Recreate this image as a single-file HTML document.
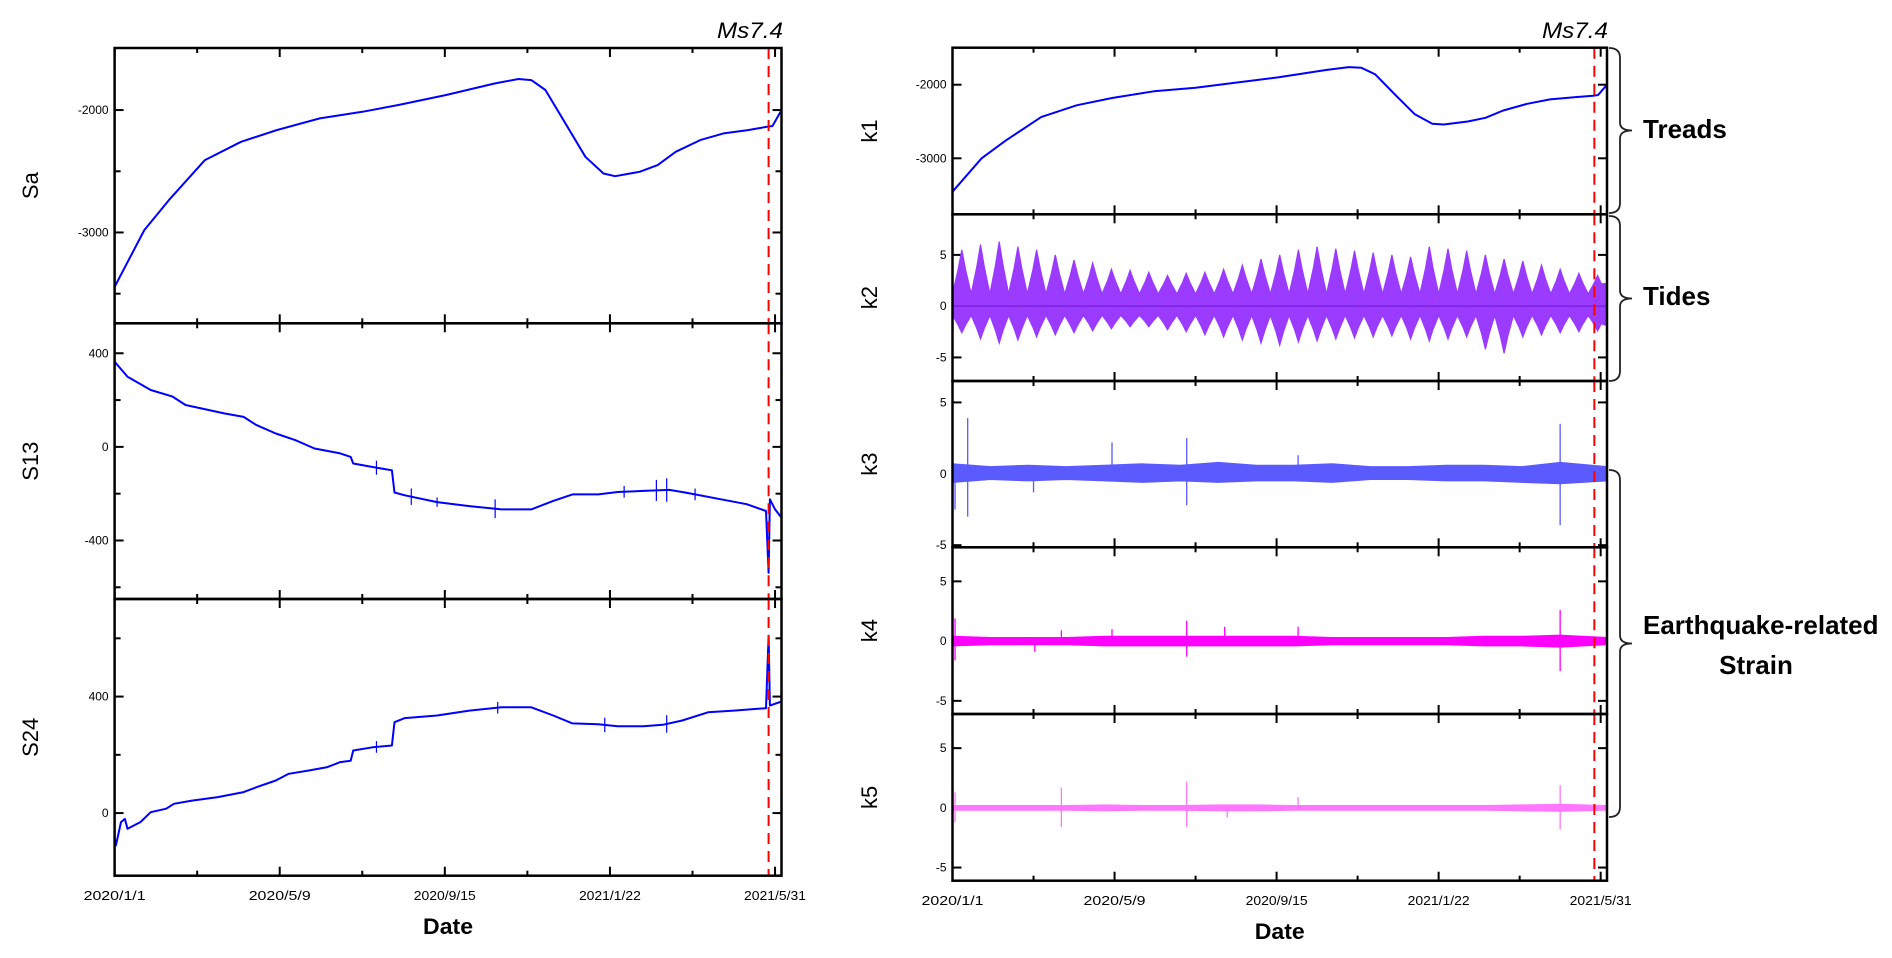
<!DOCTYPE html>
<html><head><meta charset="utf-8"><style>
html,body{margin:0;padding:0;background:#fff;}
svg{display:block;}
text{font-family:"Liberation Sans",sans-serif;}
</style></head><body>
<svg id="fig" width="1892" height="958" viewBox="0 0 1892 958" xmlns="http://www.w3.org/2000/svg">
<g id="layer"></g>
</svg>
<script>
// ---- data (day index from 2020/1/1) ----
const xTickLabels = ["2020/1/1","2020/5/9","2020/9/15","2021/1/22","2021/5/31"];
const xTickDays = [0,128,256,384,512];
const quakeDay = 507;

const saDays = [0,23,42,70,98,126,159,192,220,257,295,313,323,334,351,365,379,388,407,421,435,454,472,491,506,510,517];
const saVals = [-3445,-2981,-2736,-2409,-2259,-2163,-2068,-2014,-1959,-1877,-1782,-1746,-1755,-1836,-2136,-2382,-2518,-2540,-2504,-2450,-2341,-2245,-2191,-2164,-2136,-2130,-2000];

const s13Days = [0,10,28,45,55,85,100,110,125,140,155,175,183,185,200,215,217,225,250,275,300,323,340,355,375,390,410,430,440,450,470,490,505,507,508,512,517];
const s13Vals = [364,300,243,215,179,143,128,93,57,29,-7,-28,-43,-71,-86,-100,-195,-207,-236,-253,-267,-267,-231,-203,-203,-193,-188,-184,-193,-203,-224,-245,-274,-538,-224,-267,-302];
const s13SpikeDays = [203,230,250,295,395,420,428,450];
const s13SpikeSize = [30,35,20,40,25,45,50,25];

const s24Days = [0,1,5,8,10,20,28,40,46,60,80,100,110,125,135,150,165,175,183,185,200,215,217,225,250,275,300,323,340,355,375,390,410,425,440,460,480,505,507,508,517];
const s24Vals = [-88,-111,-31,-20,-54,-31,3,15,32,43,55,72,89,112,135,146,158,175,180,215,226,232,312,326,335,352,363,363,335,308,305,298,298,303,318,346,352,360,609,369,383];
const s24SpikeDays = [203,297,380,428];
const s24SpikeSize = [20,20,25,30];

const k1Days = [0,23,42,70,98,126,159,192,220,257,295,313,323,334,351,365,379,388,407,421,435,454,472,491,506,510,517];
const k1Vals = [-3454,-3000,-2760,-2440,-2280,-2180,-2090,-2040,-1980,-1900,-1800,-1760,-1770,-1860,-2160,-2400,-2530,-2540,-2500,-2450,-2350,-2260,-2200,-2170,-2150,-2140,-2000];

// k2 tide envelope: peak per beat cycle (upper / lower) and trough level
const k2PeakHi = [5.5,6.0,6.3,5.8,5.5,5.0,4.5,4.2,3.6,3.5,3.3,3.0,3.2,3.3,3.6,4.0,4.6,5.0,5.5,5.8,5.6,5.4,5.2,5.0,4.8,5.8,5.6,5.4,5.0,4.6,4.4,4.0,3.6,3.2,3.0];
const k2PeakLo = [-2.6,-3.2,-3.6,-3.3,-3.0,-2.8,-2.6,-2.4,-2.2,-2.0,-2.0,-2.3,-2.5,-2.8,-3.0,-3.3,-3.6,-3.8,-3.5,-3.4,-3.2,-3.1,-3.0,-2.9,-3.2,-3.4,-3.2,-3.0,-4.2,-4.6,-3.0,-2.8,-2.6,-2.5,-2.4];
const k2TroughHi = 1.2;
const k2TroughLo = -0.9;
const k2BeatDays = 14.77;

// noise bands (monthly) and spikes
const bandDays = [0,30,60,90,120,150,180,210,240,270,300,330,360,390,420,450,480,517];
const k3BandHi = [0.7,0.5,0.6,0.5,0.6,0.7,0.6,0.8,0.6,0.6,0.7,0.5,0.5,0.6,0.6,0.5,0.8,0.5];
const k3BandLo = [-0.6,-0.4,-0.5,-0.4,-0.5,-0.6,-0.5,-0.6,-0.5,-0.5,-0.6,-0.4,-0.4,-0.5,-0.5,-0.6,-0.7,-0.5];
const k3SpikeDays = [2,12,12,64,126,185,185,273,480,480];
const k3SpikeVals = [-2.5,3.9,-3.0,-1.3,2.2,2.5,-2.2,1.3,3.5,-3.6];
const k4BandHi = [0.4,0.3,0.3,0.3,0.4,0.4,0.4,0.4,0.4,0.4,0.3,0.3,0.3,0.3,0.4,0.4,0.5,0.3];
const k4BandLo = [-0.4,-0.3,-0.3,-0.3,-0.4,-0.4,-0.4,-0.4,-0.4,-0.4,-0.3,-0.3,-0.3,-0.3,-0.4,-0.4,-0.5,-0.3];
const k4SpikeDays = [2,2,65,86,126,185,185,215,273,480,480];
const k4SpikeVals = [1.9,-1.6,-0.9,0.9,1.0,1.7,-1.3,1.2,1.2,2.6,-2.5];
const k5BandHi = [0.2,0.2,0.2,0.2,0.25,0.2,0.2,0.25,0.25,0.2,0.2,0.2,0.2,0.2,0.2,0.25,0.3,0.2];
const k5BandLo = [-0.2,-0.2,-0.2,-0.2,-0.25,-0.2,-0.2,-0.25,-0.25,-0.2,-0.2,-0.2,-0.2,-0.2,-0.2,-0.25,-0.3,-0.2];
const k5SpikeDays = [2,2,86,86,185,185,217,273,480,480];
const k5SpikeVals = [1.3,-1.2,1.7,-1.6,2.2,-1.6,-0.8,0.9,1.9,-1.8];

// ---- drawing ----
const NS = "http://www.w3.org/2000/svg";
const layer = document.getElementById('layer');
function el(tag, attrs, parent){ const e=document.createElementNS(NS,tag); for(const k in attrs) e.setAttribute(k,attrs[k]); (parent||layer).appendChild(e); return e; }
function scaleX(x0,x1){ return d => x0 + d*(x1-x0)/517; }
function scaleY(y0,y1,vmax,vmin){ return v => y0 + (vmax-v)*(y1-y0)/(vmax-vmin); }

function panel(o){
  const g = el('g',{});
  
  
  const X = scaleX(o.x0,o.x1), Y = scaleY(o.y0,o.y1,o.vmax,o.vmin);
  o.X=X; o.Y=Y; o.g=g;
  for(const t of o.yTicks){
    const y=Y(t.v), len=t.label!==undefined?9:6;
    const a=el('line',{x1:o.x0,x2:o.x0+len,y1:y,y2:y,stroke:'#000','stroke-width':2},g);
    
    
    el('line',{x1:o.x1,x2:o.x1-len,y1:y,y2:y,stroke:'#000','stroke-width':2},g);
    if(t.label!==undefined){
      const tx=el('text',{x:o.x0-6,y:y+4,'font-size':12,'text-anchor':'end',fill:'#000'},g);
      tx.textContent=t.label;
      
      
    }
  }
  for(let d=0; d<=512; d+=64){
    const x=X(d), len=(d%128===0)?9:5;
    el('line',{x1:x,x2:x,y1:o.y0,y2:o.y0+len,stroke:'#000','stroke-width':2},g);
    const b=el('line',{x1:x,x2:x,y1:o.y1,y2:o.y1-len,stroke:'#000','stroke-width':2},g);
    
    
  }
  const yl=el('text',{x:0,y:0,'font-size':o.labelFont||22,'text-anchor':'middle',fill:'#000','font-family':o.serif?'Liberation Serif, serif':'Liberation Sans, sans-serif',transform:`translate(${o.labelX},${(o.y0+o.y1)/2}) rotate(-90)`},g);
  yl.textContent=o.label;
  
  
  return o;
}
function frame(o){
  const r=el('rect',{x:o.x0,y:o.y0,width:o.x1-o.x0,height:o.y1-o.y0,fill:'none',stroke:'#000','stroke-width':2.5},o.g);
  
  
}
function linePath(o,days,vals,color,name){
  let d='';
  days.forEach((dd,i)=>{ d+=(i?'L':'M')+o.X(dd).toFixed(1)+','+o.Y(vals[i]).toFixed(1); });
  const p=el('path',{d:d,fill:'none',stroke:color,'stroke-width':2,'stroke-linejoin':'round'},o.g);
  
  
}
function spikesSym(o,days,sizes,base,color){
  days.forEach((dd,i)=>{
    let bv=base.vals[0];
    for(let j=1;j<base.days.length;j++){ if(base.days[j]>=dd){ const t=(dd-base.days[j-1])/(base.days[j]-base.days[j-1]); bv=base.vals[j-1]+t*(base.vals[j]-base.vals[j-1]); break; } }
    const s=el('line',{x1:o.X(dd),x2:o.X(dd),y1:o.Y(bv+sizes[i]),y2:o.Y(bv-sizes[i]),stroke:color,'stroke-width':1.2},o.g);
    
    
  });
}
function band(o,hi,lo,color,name){
  let d='';
  bandDays.forEach((dd,i)=>{ d+=(i?'L':'M')+o.X(dd).toFixed(1)+','+o.Y(hi[i]).toFixed(1); });
  for(let i=bandDays.length-1;i>=0;i--) d+='L'+o.X(bandDays[i]).toFixed(1)+','+o.Y(lo[i]).toFixed(1);
  const p=el('path',{d:d+'Z',fill:color,stroke:color,'stroke-width':1},o.g);
  
  
}
function spikes(o,days,vals,color){
  days.forEach((dd,i)=>{
    const s=el('line',{x1:o.X(dd),x2:o.X(dd),y1:o.Y(0),y2:o.Y(vals[i]),stroke:color,'stroke-width':1.3},o.g);
    
    
  });
}
function quake(o){
  const l=el('line',{x1:o.X(quakeDay),x2:o.X(quakeDay),y1:o.y0,y2:o.y1,stroke:'#ff0000','stroke-width':2,'stroke-dasharray':'11,7'},o.g);
  
  
}

const LX0=114.6, LX1=781.5, RX0=952.5, RX1=1607;
const tk=(vals,lab)=>vals.map(v=>({v:v,label:lab.includes(v)?String(v):undefined}));
const sa=panel({name:'sa',x0:LX0,x1:LX1,y0:48,y1:323.3,vmax:-1493,vmin:-3742,yTicks:tk([-2000,-2500,-3000,-3500],[-2000,-3000]),label:'Sa',labelX:38});
const s13=panel({name:'s13',x0:LX0,x1:LX1,y0:323.3,y1:599,vmax:528,vmin:-650,yTicks:tk([400,200,0,-200,-400,-600],[400,0,-400]),label:'S13',labelX:38});
const s24=panel({name:'s24',x0:LX0,x1:LX1,y0:599,y1:875.7,vmax:735,vmin:-215,yTicks:tk([600,400,200,0],[400,0]),label:'S24',labelX:38});
linePath(sa,saDays,saVals,'#0000ff','sa-series');
spikesSym(s13,s13SpikeDays,s13SpikeSize,{days:s13Days,vals:s13Vals},'#0000ff');
linePath(s13,s13Days,s13Vals,'#0000ff','s13-series');
spikesSym(s24,s24SpikeDays,s24SpikeSize,{days:s24Days,vals:s24Vals},'#0000ff');
linePath(s24,s24Days,s24Vals,'#0000ff','s24-series');

const k1=panel({name:'k1',x0:RX0,x1:RX1,y0:47.7,y1:214.3,vmax:-1497,vmin:-3761,yTicks:tk([-2000,-3000],[-2000,-3000]),label:'k1',labelX:877,serif:true,labelFont:22});
const k2=panel({name:'k2',x0:RX0,x1:RX1,y0:214.3,y1:381,vmax:8.96,vmin:-7.3,yTicks:tk([5,0,-5],[5,0,-5]),label:'k2',labelX:877,serif:true,labelFont:22});
const k3=panel({name:'k3',x0:RX0,x1:RX1,y0:381,y1:547.3,vmax:6.5,vmin:-5.15,yTicks:tk([5,0,-5],[5,0,-5]),label:'k3',labelX:877,serif:true,labelFont:22});
const k4=panel({name:'k4',x0:RX0,x1:RX1,y0:547.3,y1:714,vmax:7.85,vmin:-6.1,yTicks:tk([5,0,-5],[5,0,-5]),label:'k4',labelX:877,serif:true,labelFont:22});
const k5=panel({name:'k5',x0:RX0,x1:RX1,y0:714,y1:880.7,vmax:7.86,vmin:-6.1,yTicks:tk([5,0,-5],[5,0,-5]),label:'k5',labelX:877,serif:true,labelFont:22});
linePath(k1,k1Days,k1Vals,'#0000ff','k1-series');

// k2 tides envelope polygon
(function(){
  const o=k2; let up='', dn=[];
  const B=k2BeatDays;
  k2PeakHi.forEach((h,i)=>{
    const d0=i*B;
    const hq=k2TroughHi+0.55*(h-k2TroughHi), lq=k2TroughLo+0.55*(k2PeakLo[i]-k2TroughLo);
    const pts=[[d0,k2TroughHi],[d0+B*0.3,hq],[d0+B*0.5,h],[d0+B*0.7,hq]];
    const ptsL=[[d0,k2TroughLo],[d0+B*0.3,lq],[d0+B*0.5,k2PeakLo[i]],[d0+B*0.7,lq]];
    pts.forEach((p,j)=>{ up+=((i||j)?'L':'M')+o.X(p[0]).toFixed(1)+','+o.Y(p[1]).toFixed(1); });
    ptsL.forEach(p=>dn.push(o.X(p[0]).toFixed(1)+','+o.Y(p[1]).toFixed(1)));
  });
  up+='L'+o.X(517).toFixed(1)+','+o.Y(k2TroughHi+1).toFixed(1)+'L'+o.X(517).toFixed(1)+','+o.Y(k2TroughLo-1).toFixed(1);
  dn.reverse().forEach(p=>{up+='L'+p;});
  const p=el('path',{d:up+'Z',fill:'#9b3bff',stroke:'#9b3bff','stroke-width':1.2},o.g);
  
  
  el('line',{x1:o.x0,x2:o.x1,y1:o.Y(0),y2:o.Y(0),stroke:'#7a20e0','stroke-width':1.5},o.g);
})();
band(k3,k3BandHi,k3BandLo,'#5a5aff','k3-series'); spikes(k3,k3SpikeDays,k3SpikeVals,'#5a5aff');
band(k4,k4BandHi,k4BandLo,'#ff00ff','k4-series'); spikes(k4,k4SpikeDays,k4SpikeVals,'#ff00ff');
band(k5,k5BandHi,k5BandLo,'#ff77ff','k5-series'); spikes(k5,k5SpikeDays,k5SpikeVals,'#ff77ff');

[sa,s13,s24,k1,k2,k3,k4,k5].forEach(o=>{quake(o);frame(o);});

function xLabels(o,y,titleY){
  xTickDays.forEach((d,i)=>{
    const t=el('text',{x:o.X(d),y:y,'font-size':13,'text-anchor':'middle',fill:'#000',textLength:62,lengthAdjust:'spacingAndGlyphs'});
    t.textContent=xTickLabels[i];
    
    
  });
  const tt=el('text',{x:(o.x0+o.x1)/2,y:titleY,'font-size':22,'font-weight':'bold','text-anchor':'middle',fill:'#000',textLength:50,lengthAdjust:'spacingAndGlyphs'});
  tt.textContent='Date';
  
  
}
xLabels(sa,900,934);
xLabels(k1,905,939);

function msLabel(x){
  const t=el('text',{x:x,y:38,'font-size':22,'font-style':'italic','text-anchor':'end',fill:'#000','font-family':'Liberation Mono, monospace',textLength:66,lengthAdjust:'spacingAndGlyphs'});
  t.textContent='Ms7.4';
  
  
}
msLabel(783); msLabel(1608);

function brace(y0,y1,name){
  const x=1609, xm=1620, xt=1632, m=(y0+y1)/2;
  const d=`M${x},${y0} Q${xm},${y0} ${xm},${y0+10} L${xm},${m-8} Q${xm},${m} ${xt},${m} Q${xm},${m} ${xm},${m+8} L${xm},${y1-10} Q${xm},${y1} ${x},${y1}`;
  const p=el('path',{d:d,fill:'none',stroke:'#222','stroke-width':1.8});
  
  
}
brace(48,213,'treads-brace'); brace(216,381,'tides-brace'); brace(470,817,'earthquake-strain-brace');
function label(txt,x,y,name,anchor){
  const t=el('text',{x:x,y:y,'font-size':26,'font-weight':'bold','text-anchor':anchor||'start',fill:'#000','font-family':'Liberation Serif, serif'});
  t.textContent=txt;
  
  
}
label('Treads',1643,138,'treads-label');
label('Tides',1643,305,'tides-label');
label('Earthquake-related',1643,634,'earthquake-label');
label('Strain',1756,674,'strain-label','middle');
</script>
</body></html>
